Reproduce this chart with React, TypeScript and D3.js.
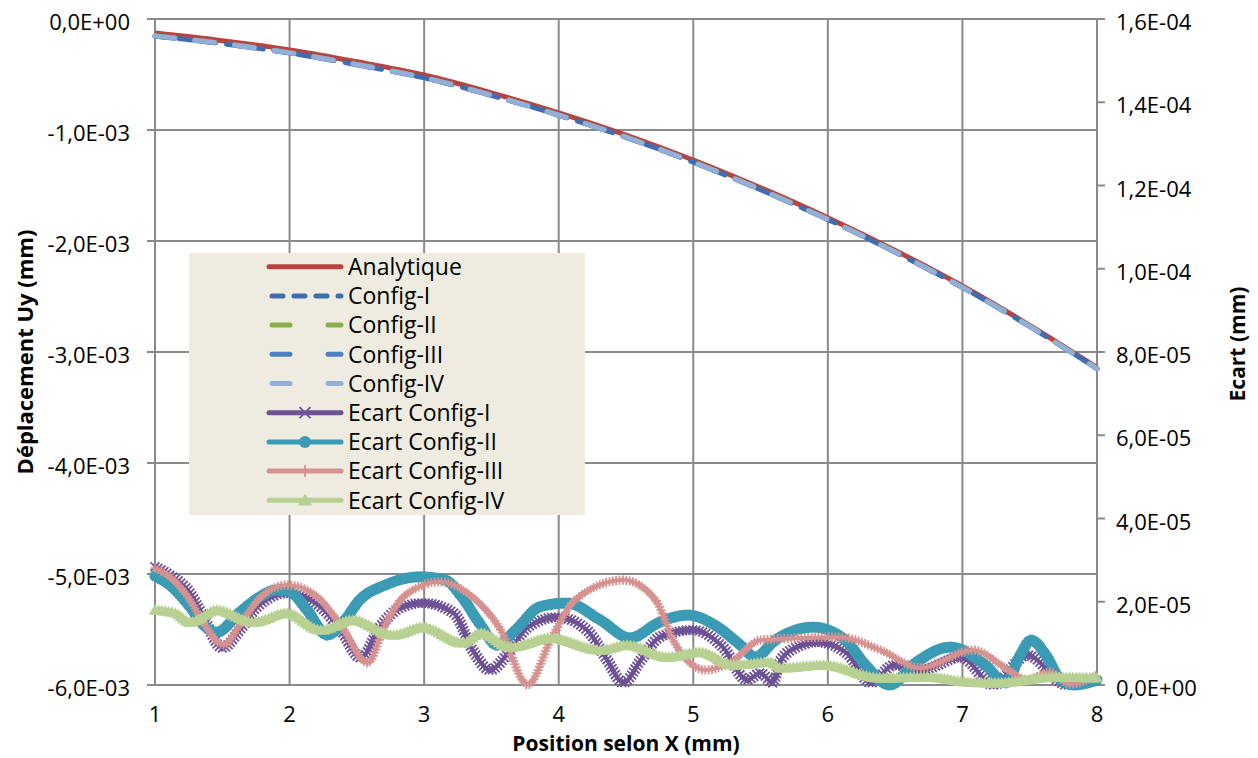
import React, { useEffect, useRef } from "react";
import * as d3 from "d3";

// ---------- axes ----------
const xTicks = [1, 2, 3, 4, 5, 6, 7, 8];
const leftTicks = [0, -1e-3, -2e-3, -3e-3, -4e-3, -5e-3, -6e-3];
const leftTickLabels = ["0,0E+00", "-1,0E-03", "-2,0E-03", "-3,0E-03", "-4,0E-03", "-5,0E-03", "-6,0E-03"];
// right axis values in units of 1E-5 mm
const rightTicks = [0, 2, 4, 6, 8, 10, 12, 14, 16];
const rightTickLabels = ["0,0E+00", "2,0E-05", "4,0E-05", "6,0E-05", "8,0E-05", "1,0E-04", "1,2E-04", "1,4E-04", "1,6E-04"];

// ---------- displacement series (mm) ----------
const xMain = [1, 1.5, 2, 2.5, 3, 3.5, 4, 4.5, 5, 5.5, 6, 6.5, 7, 7.5, 8];
const analytique = [-0.126e-3, -0.195e-3, -0.279e-3, -0.385e-3, -0.505e-3, -0.665e-3, -0.845e-3, -1.045e-3, -1.27e-3, -1.52e-3, -1.79e-3, -2.085e-3, -2.405e-3, -2.76e-3, -3.14e-3];
const config1 = [-0.154e-3, -0.222e-3, -0.306e-3, -0.412e-3, -0.53e-3, -0.688e-3, -0.866e-3, -1.066e-3, -1.29e-3, -1.538e-3, -1.806e-3, -2.1e-3, -2.418e-3, -2.77e-3, -3.15e-3];
const config2 = [-0.152e-3, -0.22e-3, -0.304e-3, -0.409e-3, -0.528e-3, -0.686e-3, -0.865e-3, -1.064e-3, -1.288e-3, -1.536e-3, -1.805e-3, -2.099e-3, -2.417e-3, -2.769e-3, -3.149e-3];
const config3 = [-0.155e-3, -0.223e-3, -0.307e-3, -0.413e-3, -0.531e-3, -0.689e-3, -0.867e-3, -1.067e-3, -1.291e-3, -1.539e-3, -1.807e-3, -2.101e-3, -2.419e-3, -2.771e-3, -3.151e-3];
const config4 = [-0.153e-3, -0.221e-3, -0.305e-3, -0.41e-3, -0.529e-3, -0.687e-3, -0.866e-3, -1.065e-3, -1.289e-3, -1.537e-3, -1.806e-3, -2.1e-3, -2.418e-3, -2.77e-3, -3.15e-3];

// ---------- deviation series (units of 1E-5 mm) ----------
const ecart1X = [1.0, 1.11, 1.26, 1.36, 1.5, 1.63, 1.76, 1.98, 2.23, 2.38, 2.53, 2.67, 2.82, 2.99, 3.22, 3.36, 3.49, 3.64, 3.77, 3.99, 4.21, 4.36, 4.48, 4.61, 4.75, 5.0, 5.22, 5.4, 5.5, 5.59, 5.65, 5.77, 5.92, 6.14, 6.32, 6.49, 6.69, 6.99, 7.23, 7.48, 7.78, 8.0];
const ecart1 = [2.84, 2.64, 2.21, 1.63, 0.89, 1.32, 1.88, 2.21, 1.88, 1.32, 0.65, 1.39, 1.85, 1.97, 1.73, 0.84, 0.36, 0.84, 1.39, 1.63, 1.32, 0.6, 0.05, 0.6, 1.15, 1.32, 0.91, 0.12, 0.29, 0.05, 0.6, 0.91, 1.03, 0.77, 0.05, 0.48, 0.36, 0.67, 0.0, 0.72, 0.0, 0.12];

const ecart2X = [1.0, 1.11, 1.26, 1.36, 1.46, 1.63, 1.78, 1.89, 2.0, 2.13, 2.28, 2.41, 2.52, 2.71, 2.97, 3.16, 3.27, 3.42, 3.54, 3.68, 3.86, 4.06, 4.31, 4.53, 4.75, 4.96, 5.16, 5.35, 5.46, 5.61, 5.76, 5.89, 6.13, 6.28, 6.46, 6.65, 6.91, 7.17, 7.32, 7.43, 7.51, 7.62, 7.73, 7.83, 8.0];
const ecart2 = [2.62, 2.4, 1.88, 1.44, 1.27, 1.75, 2.12, 2.28, 2.24, 1.8, 1.2, 1.56, 2.04, 2.4, 2.6, 2.52, 2.16, 1.44, 0.96, 1.32, 1.88, 1.97, 1.56, 1.13, 1.51, 1.68, 1.44, 0.96, 0.67, 1.08, 1.32, 1.39, 1.08, 0.48, 0.0, 0.53, 0.91, 0.48, 0.05, 0.72, 1.08, 0.72, 0.12, 0.0, 0.12];

const ecart3X = [1.0, 1.11, 1.26, 1.37, 1.51, 1.63, 1.78, 1.98, 2.19, 2.38, 2.58, 2.71, 2.86, 3.12, 3.34, 3.57, 3.77, 3.94, 4.12, 4.48, 4.72, 4.85, 5.09, 5.28, 5.5, 6.09, 6.39, 6.69, 7.08, 7.32, 7.48, 7.65, 7.8, 8.0];
const ecart3 = [2.81, 2.6, 2.04, 1.44, 0.96, 1.44, 2.09, 2.4, 2.16, 1.44, 0.53, 1.44, 2.16, 2.48, 2.16, 1.32, 0.0, 1.08, 2.04, 2.52, 2.04, 1.08, 0.36, 0.55, 1.08, 1.15, 0.84, 0.41, 0.84, 0.41, 0.12, 0.31, 0.02, 0.24];

const ecart4X = [1.0, 1.15, 1.26, 1.46, 1.73, 1.98, 2.23, 2.47, 2.77, 2.99, 3.29, 3.42, 3.64, 3.94, 4.31, 4.51, 4.81, 5.05, 5.3, 5.57, 5.65, 5.97, 6.39, 6.76, 7.04, 7.26, 7.68, 8.0];
const ecart4 = [1.8, 1.73, 1.51, 1.8, 1.51, 1.73, 1.32, 1.56, 1.2, 1.39, 1.01, 1.25, 0.91, 1.13, 0.84, 0.96, 0.67, 0.79, 0.48, 0.55, 0.41, 0.48, 0.17, 0.19, 0.07, 0.05, 0.19, 0.17];

const legendNames = ["Analytique", "Config-I", "Config-II", "Config-III", "Config-IV", "Ecart Config-I", "Ecart Config-II", "Ecart Config-III", "Ecart Config-IV"];

const FONT = "'Open Sans', 'Noto Sans', sans-serif";
const GRID = "#8a8a8a";

type Marker = "x" | "circle" | "plus" | "triangle" | null;

const COL = {
  analytique: "#B9433F",
  c1: "#3F6DAE",
  c2: "#8DAE4C",
  c3: "#4D80C2",
  c4: "#93AFD6",
  e1: "#6E5296",
  e2: "#3C9BB4",
  e3: "#D69290",
  e4: "#B8D193",
};

function drawMarker(g: any, kind: Marker, x: number, y: number, color: string, s: number) {
  if (kind === "x") {
    g.append("path").attr("d", `M${x - s},${y - s}L${x + s},${y + s}M${x - s},${y + s}L${x + s},${y - s}`)
      .attr("stroke", color).attr("stroke-width", 1.8).attr("fill", "none");
  } else if (kind === "plus") {
    g.append("path").attr("d", `M${x - s},${y}H${x + s}M${x},${y - s}V${y + s}`)
      .attr("stroke", color).attr("stroke-width", 1.8).attr("fill", "none");
  } else if (kind === "circle") {
    g.append("circle").attr("cx", x).attr("cy", y).attr("r", s).attr("fill", color);
  } else if (kind === "triangle") {
    g.append("path").attr("d", `M${x},${y - s}L${x + s * 1.1},${y + s * 0.8}L${x - s * 1.1},${y + s * 0.8}Z`).attr("fill", color);
  }
}

export default function App() {
  const ref = useRef<SVGSVGElement>(null);

  useEffect(() => {
    const svg = d3.select(ref.current);
    svg.selectAll("*").remove();

    const x = d3.scaleLinear().domain([1, 8]).range([155, 1097]);
    const yL = d3.scaleLinear().domain([-6e-3, 0]).range([685, 19]);
    const yR = d3.scaleLinear().domain([0, 16]).range([685, 19]);

    const [x0, x1] = x.range();
    const [yb, yt] = yL.range();

    // gridlines
    const grid = svg.append("g");
    xTicks.forEach((t) => {
      grid.append("line").attr("x1", x(t)).attr("x2", x(t)).attr("y1", yt).attr("y2", yb)
        .attr("stroke", GRID).attr("stroke-width", 2);
    });
    leftTicks.forEach((t) => {
      grid.append("line").attr("x1", x0 - 8).attr("x2", x1).attr("y1", yL(t)).attr("y2", yL(t))
        .attr("stroke", GRID).attr("stroke-width", 2);
    });
    rightTicks.forEach((t) => {
      grid.append("line").attr("x1", x1).attr("x2", x1 + 8).attr("y1", yR(t)).attr("y2", yR(t))
        .attr("stroke", GRID).attr("stroke-width", 2);
    });

    // tick labels
    const tl = svg.append("g").attr("font-family", FONT).attr("font-size", 22).attr("fill", "#000");
    leftTicks.forEach((t, i) => {
      tl.append("text").attr("x", 130).attr("y", yL(t) + 11).attr("text-anchor", "end").text(leftTickLabels[i]);
    });
    rightTicks.forEach((t, i) => {
      tl.append("text").attr("x", 1116).attr("y", yR(t) + 11).attr("text-anchor", "start").text(rightTickLabels[i]);
    });
    xTicks.forEach((t) => {
      tl.append("text").attr("x", x(t)).attr("y", yb + 37).attr("text-anchor", "middle").text(String(t));
    });

    // axis titles
    const at = svg.append("g").attr("font-family", FONT).attr("font-weight", 700).attr("fill", "#000");
    at.append("text").attr("x", (x0 + x1) / 2).attr("y", 751).attr("font-size", 21).attr("text-anchor", "middle").text("Position selon X (mm)");
    at.append("text").attr("transform", `translate(33,${(yt + yb) / 2}) rotate(-90)`).attr("font-size", 22).attr("text-anchor", "middle").text("Déplacement Uy (mm)");
    at.append("text").attr("transform", `translate(1245,${(yt + yb) / 2 - 8}) rotate(-90)`).attr("font-size", 21).attr("text-anchor", "middle").text("Ecart (mm)");

    // main series
    const lineMain = d3.line<number>().x((_, i) => x(xMain[i])).y((d) => yL(d)).curve(d3.curveMonotoneX);
    const mainSeries: [number[], string, string | null][] = [
      [analytique, COL.analytique, null],
      [config1, COL.c1, "13 11"],
      [config2, COL.c2, "20 20"],
      [config3, COL.c3, "20 20"],
      [config4, COL.c4, "20 20"],
    ];
    const mg = svg.append("g");
    mainSeries.forEach(([vals, c, dash]) => {
      const p = mg.append("path").attr("d", lineMain(vals)).attr("fill", "none").attr("stroke", c)
        .attr("stroke-width", 5).attr("stroke-linecap", dash ? "round" : "butt");
      if (dash) p.attr("stroke-dasharray", dash);
    });

    // ecart series
    const ecSeries: [number[], number[], string, Marker, number][] = [
      [ecart1X, ecart1, COL.e1, "x", 4.4],
      [ecart2X, ecart2, COL.e2, "circle", 5.6],
      [ecart3X, ecart3, COL.e3, "plus", 4.6],
      [ecart4X, ecart4, COL.e4, "triangle", 5.8],
    ];
    ecSeries.forEach(([xs, vals, c, mk, ms]) => {
      const g = svg.append("g");
      const line = d3.line<number>().x((_, i) => x(xs[i])).y((d) => yR(d)).curve(d3.curveMonotoneX);
      const p = g.append("path").attr("d", line(vals)).attr("fill", "none").attr("stroke", c).attr("stroke-width", 4);
      const node = p.node() as SVGPathElement;
      const L = node.getTotalLength();
      for (let s = 0; s <= L; s += 3.4) {
        const pt = node.getPointAtLength(s);
        drawMarker(g, mk, pt.x, pt.y, c, ms);
      }
    });

    // legend
    const lg = svg.append("g");
    lg.append("rect").attr("x", 189).attr("y", 253).attr("width", 396).attr("height", 262).attr("fill", "#EEECE1");
    const legendStyle: [string, string | null, Marker, number][] = [
      [COL.analytique, null, null, 0],
      [COL.c1, "11 11", null, 0],
      [COL.c2, "18 38", null, 0],
      [COL.c3, "18 38", null, 0],
      [COL.c4, "18 38", null, 0],
      [COL.e1, null, "x", 5.5],
      [COL.e2, null, "circle", 6],
      [COL.e3, null, "plus", 6],
      [COL.e4, null, "triangle", 6.5],
    ];
    legendNames.forEach((name, i) => {
      const cy = 266.7 + i * 29.2;
      const [c, dash, mk, ms] = legendStyle[i];
      const l = lg.append("line").attr("x1", dash ? 272 : 269).attr("x2", 341).attr("y1", cy).attr("y2", cy)
        .attr("stroke", c).attr("stroke-width", 5).attr("stroke-linecap", "round");
      if (dash) l.attr("stroke-dasharray", dash);
      if (mk) drawMarker(lg, mk, 305, cy, c, ms);
      lg.append("text").attr("x", 348).attr("y", cy + 8.3).attr("font-family", FONT).attr("font-size", 23)
        .attr("fill", "#000").text(name);
    });
  }, []);

  return (
    <svg ref={ref} width={1258} height={758} style={{ position: "absolute", left: 0, top: 0, background: "#fff" }} />
  );
}
